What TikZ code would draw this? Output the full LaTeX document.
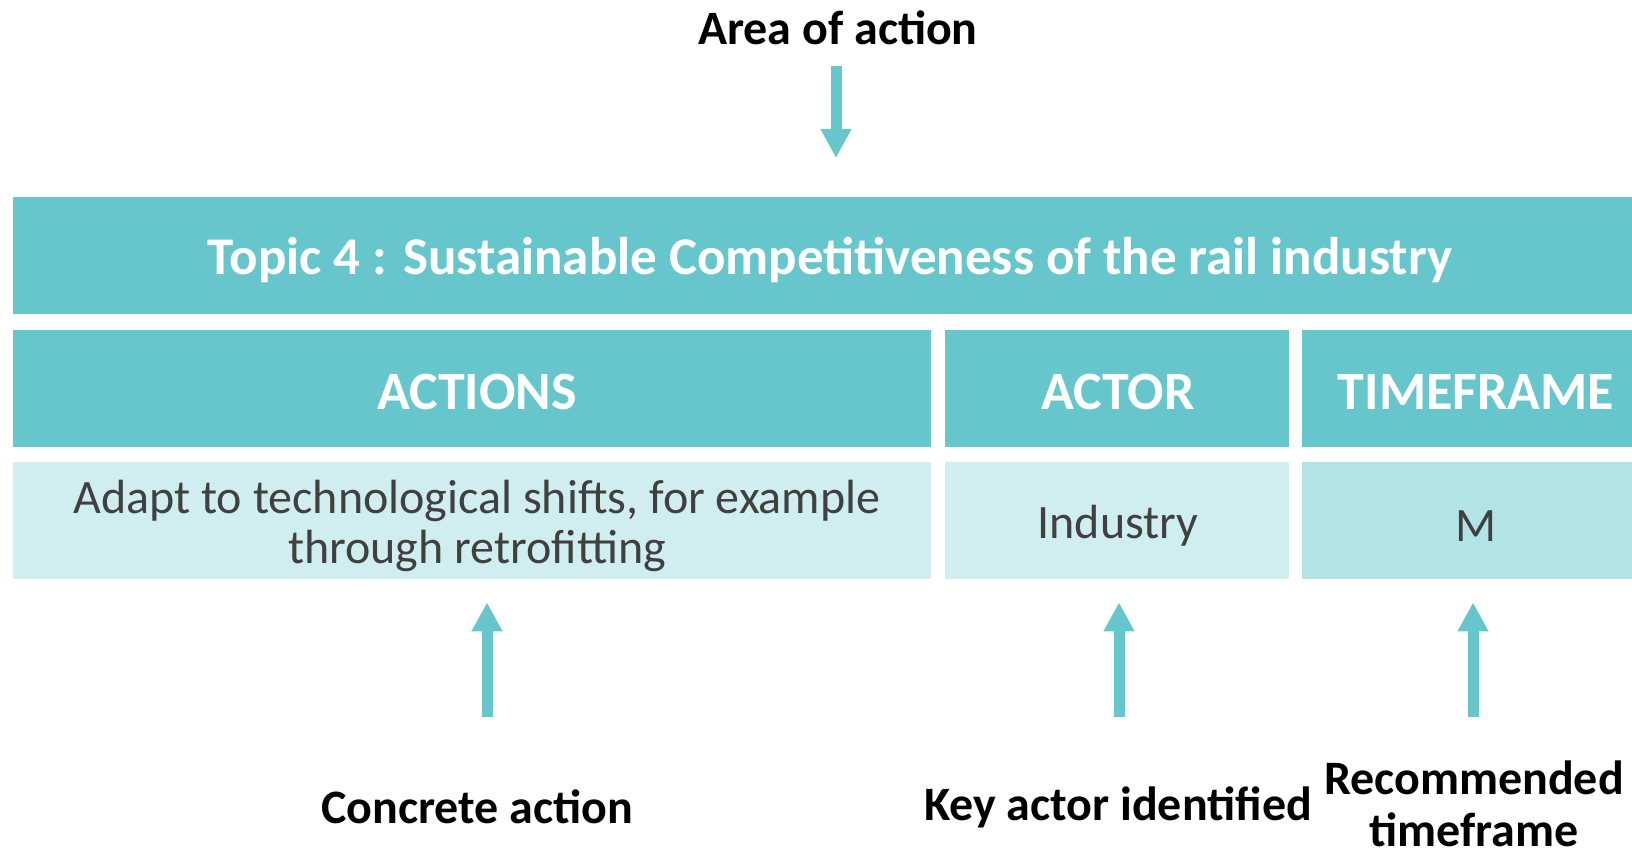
\documentclass[tikz,border=0pt]{standalone}
\usepackage{fontspec}
\setmainfont{Carlito}
\usetikzlibrary{arrows.meta}

\definecolor{railteal}{RGB}{103,198,204}
\definecolor{raillight}{RGB}{208,238,240}
\definecolor{railpale}{RGB}{179,228,229}
\definecolor{cellgray}{RGB}{64,64,64}

\tikzset{
  bar/.style={fill=railteal, inner sep=0pt, anchor=north west, minimum height=117pt},
  cell/.style={fill=raillight, inner sep=0pt, anchor=north west, minimum height=117pt},
  headtext/.style={text=white, font=\bfseries\fontsize{54}{60}\selectfont},
  celltext/.style={text=cellgray, align=center, font=\fontsize{48}{50}\selectfont},
  note/.style={align=center, font=\bfseries\fontsize{48}{52}\selectfont},
  pointer/.style={draw=railteal, line width=11pt, -{Triangle[width=29pt,length=29pt]}}
}

\begin{document}
\begin{tikzpicture}[x=1pt,y=-1pt]
\useasboundingbox (0,0) rectangle (1632,850);
\clip (0,0) rectangle (1632,850);

%topic
\node[bar, minimum width=1635pt] (topic) at (13,197) {};
\node[headtext, font=\bfseries\fontsize{53}{60}\selectfont] (topictext) at (830,260)
  {Topic 4 : Sustainable Competitiveness of the rail industry};

% headers
\node[bar, minimum width=918pt] (acthead) at (13,330) {};
\node[bar, minimum width=344pt] (actorhead) at (945,330) {};
\node[bar, minimum width=346pt] (timehead) at (1302,330) {};
\node[headtext] (acttext) at (477,392) {ACTIONS};
\node[headtext] (actortext) at (1118,392) {ACTOR};
\node[headtext] (timetext) at (1476,392) {TIMEFRAME};

% row
\node[cell, minimum width=918pt] (actdata) at (13,462) {};
\node[cell, minimum width=344pt] (actordata) at (945,462) {};
\node[cell, fill=railpale, minimum width=346pt] (timedata) at (1302,462) {};
\node[celltext] (acttxt) at (477,526)
  {Adapt to technological shifts, for example\\through retrofitting};
\node[celltext] (actortxt) at (1118,526) {Industry};
\node[celltext] (timetxt) at (1476,526) {M};

% labels
\node[note] (area) at (838,28) {Area of action};
\node[note] (concrete) at (477,807) {Concrete action};
\node[note] (keyactor) at (1118,807) {Key actor identified};
\node[note] (recommended) at (1474,804) {Recommended\\timeframe};

% arrows
\coordinate (areafoot) at (836,66);
\draw[pointer, shorten >=39pt] (areafoot) -- (areafoot |- topic.north);
\coordinate (concretefoot) at (487,717);
\draw[pointer, shorten >=23pt] (concretefoot) -- (concretefoot |- actdata.south);
\coordinate (keyactorfoot) at (1119,717);
\draw[pointer, shorten >=23pt] (keyactorfoot) -- (keyactorfoot |- actordata.south);
\coordinate (recommendedfoot) at (1473,717);
\draw[pointer, shorten >=23pt] (recommendedfoot) -- (recommendedfoot |- timedata.south);

\end{tikzpicture}
\end{document}
